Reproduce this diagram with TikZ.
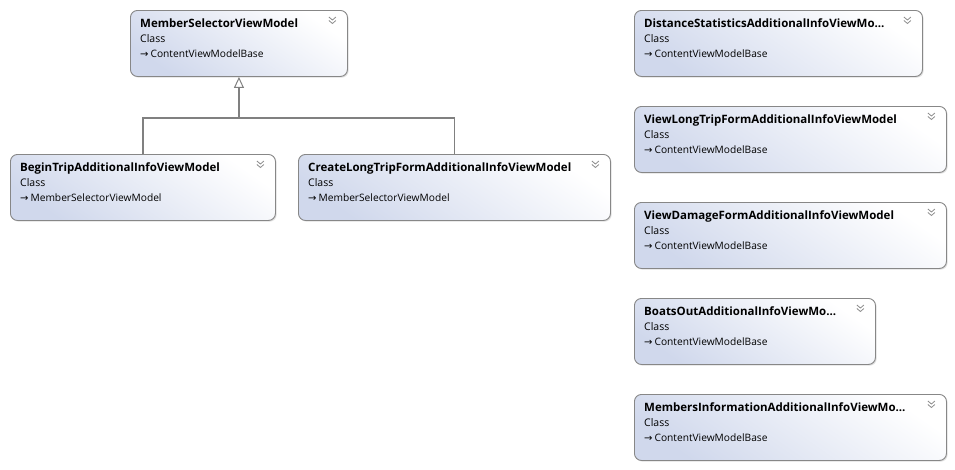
\documentclass[tikz,border=0pt]{standalone}
\usepackage{fontspec}
\setmainfont{Open Sans}
\newfontfamily\arrowfont{DejaVu Sans}
\usetikzlibrary{arrows.meta,shadows}
\definecolor{boxborder}{RGB}{135,135,135}
\definecolor{boxblue}{RGB}{208,216,236}
\definecolor{linegray}{RGB}{128,128,128}
\definecolor{chev}{RGB}{140,140,140}
\tikzset{
  classbox/.style={draw=boxborder, line width=0.9pt, rounded corners=7pt, anchor=north west,
    minimum height=66pt, inner sep=0pt, top color=white, bottom color=boxblue, shading angle=-35,
    drop shadow={opacity=0.25, shadow xshift=1.2pt, shadow yshift=-1.2pt}},
  ttl/.style={anchor=base west, inner sep=0pt, font=\fontsize{11.5}{13}\selectfont\bfseries},
  kind/.style={anchor=base west, inner sep=0pt, font=\fontsize{10.5}{12}\selectfont},
  base/.style={anchor=base west, inner sep=0pt, font=\fontsize{10.2}{12}\selectfont},
  chevline/.style={draw=chev, line width=0.8pt},
  inh/.style={draw=linegray, line width=1.1pt},
}
\newcommand{\classbox}[6]{%
  % #1 name, #2 x1, #3 y1, #4 x2, #5 title, #6 base
  \node[classbox, minimum width=#4pt-#2pt] (#1) at (#2,#3) {};
  \node[ttl] (#1-t) at ([xshift=10pt,yshift=-17pt]#1.north west) {#5};
  \node[kind] (#1-k) at ([xshift=10pt,yshift=-32pt]#1.north west) {Class};
  \node[base] (#1-b) at ([xshift=10pt,yshift=-47.5pt]#1.north west) {{\arrowfont\fontsize{10}{10}\selectfont →}\kern2pt#6};
  \draw[chevline] ([xshift=-19pt,yshift=-7pt]#1.north east) -- ++(3.5,3) -- ++(3.5,-3);
  \draw[chevline] ([xshift=-19pt,yshift=-10.5pt]#1.north east) -- ++(3.5,3) -- ++(3.5,-3);
}
\begin{document}
\begin{tikzpicture}[x=1pt,y=-1pt]
\useasboundingbox (0,0) rectangle (955,469);
\classbox{msvm}{130}{10}{347}{MemberSelectorViewModel}{ContentViewModelBase}
\classbox{begin}{10}{154}{275}{BeginTripAdditionalInfoViewModel}{MemberSelectorViewModel}
\classbox{create}{298}{154}{610}{CreateLongTripFormAdditionalInfoViewModel}{MemberSelectorViewModel}
\classbox{dist}{634}{10}{922}{DistanceStatisticsAdditionalInfoViewMo...}{ContentViewModelBase}
\classbox{vlt}{634}{106}{946}{ViewLongTripFormAdditionalInfoViewModel}{ContentViewModelBase}
\classbox{vdf}{634}{202}{946}{ViewDamageFormAdditionalInfoViewModel}{ContentViewModelBase}
\classbox{boats}{634}{298}{875}{BoatsOutAdditionalInfoViewMo...}{ContentViewModelBase}
\classbox{mia}{634}{394}{946}{MembersInformationAdditionalInfoViewMo...}{ContentViewModelBase}
\coordinate (j) at (msvm.south |- 0,118);
\draw[inh] (begin.north) |- (j) -| (create.north);
\draw[inh, -{Triangle[open, length=11pt, width=10pt, line width=1pt]}] (j) -- (msvm.south);
\end{tikzpicture}
\end{document}
